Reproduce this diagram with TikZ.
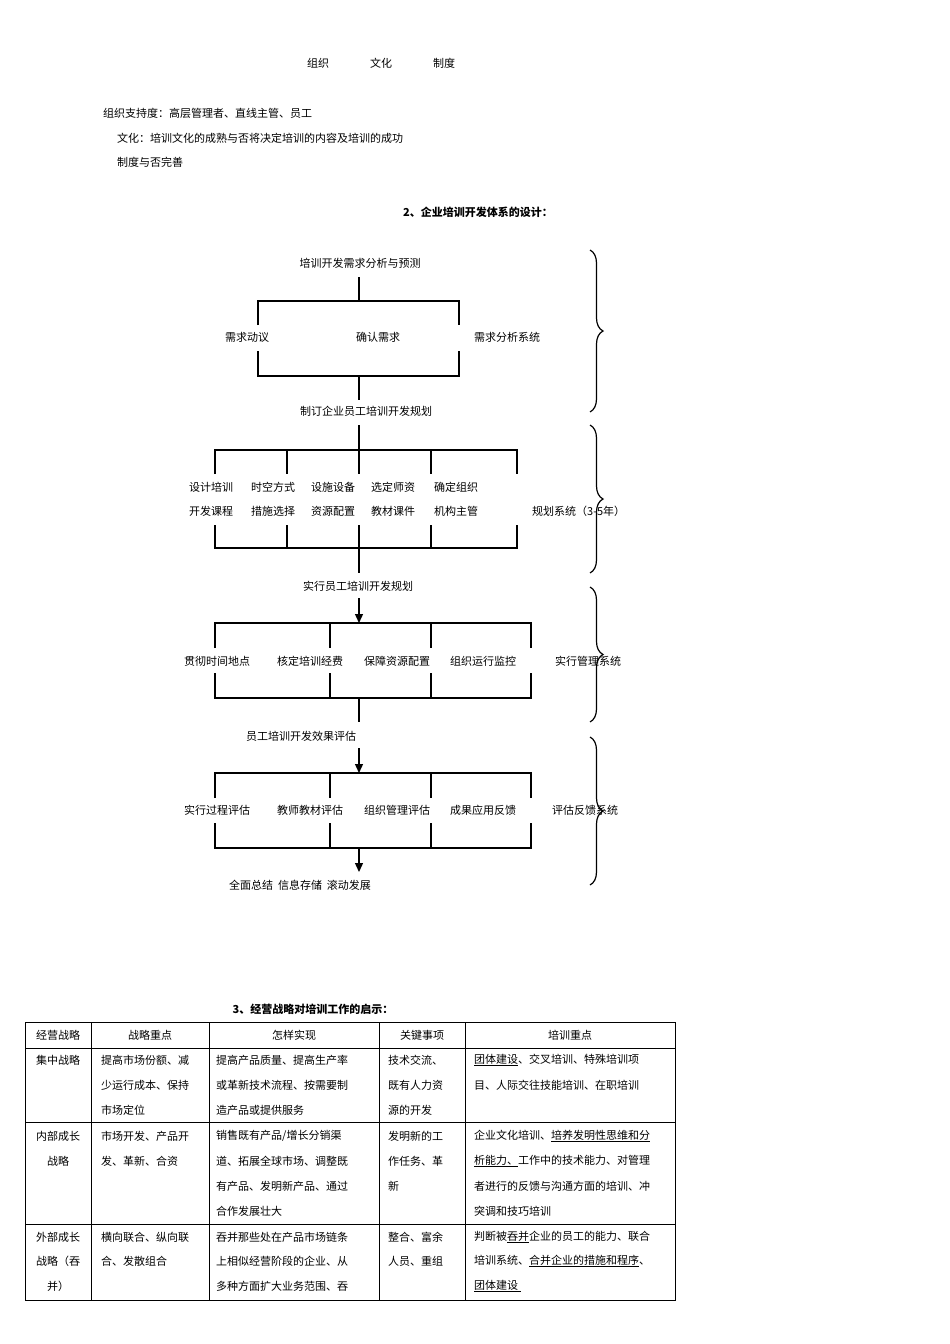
\documentclass[tikz,border=0pt]{standalone}
\usepackage{fontspec}
\setmainfont{Noto Sans CJK SC}
\usetikzlibrary{arrows.meta,decorations.pathreplacing}
\begin{document}
\begin{tikzpicture}[x=1pt,y=-1pt,
  every node/.style={inner sep=0pt,font=\fontsize{11}{12}\selectfont},
  ln/.style={line width=1.3pt},
  arr/.style={line width=1.3pt,-{Triangle[length=9pt,width=8pt]}},
  br/.style={line width=1.2pt,decorate,decoration={brace,amplitude=13pt,aspect=0.5}},
  tl/.style={line width=0.9pt},
  L/.style={anchor=west}]
\useasboundingbox (0,0) rectangle (950,1344);
% top text
\node (o1) at (318,63) {组织};
\node (o2) at (381,63) {文化};
\node (o3) at (444,63) {制度};
\node[L] (t1) at (103,113) {组织支持度：高层管理者、直线主管、员工};
\node[L] (t2) at (117,138) {文化：培训文化的成熟与否将决定培训的内容及培训的成功};
\node[L] (t3) at (117,162) {制度与否完善};
\node[font=\fontsize{11}{12}\selectfont\bfseries] (h2) at (478,212) {2、企业培训开发体系的设计：};
% section 1
\node (a0) at (360,263) {培训开发需求分析与预测};
\draw[ln] (359,277) -- (359,301);
\draw[ln] (258,325) -- (258,301) -- (459,301) -- (459,325);
\draw[ln] (258,351) -- (258,376) -- (459,376) -- (459,351);
\node (a1) at (247,337) {需求动议};
\node (a2) at (378,337) {确认需求};
\node (a3) at (507,337) {需求分析系统};
\draw[ln] (359,376) -- (359,400);
\node (b0) at (366,411) {制订企业员工培训开发规划};
% section 2
\draw[ln] (359,425) -- (359,474);
\draw[ln] (215,474) -- (215,450) -- (517,450) -- (517,474);
\foreach \x in {287,431} \draw[ln] (\x,450) -- (\x,474);
\draw[ln] (215,525) -- (215,548) -- (517,548) -- (517,525);
\foreach \x in {287,431} \draw[ln] (\x,525) -- (\x,548);
\draw[ln] (359,525) -- (359,573);
\node (b1) at (211,487) {设计培训}; \node at (211,511) {开发课程};
\node (b2) at (273,487) {时空方式}; \node at (273,511) {措施选择};
\node (b3) at (333,487) {设施设备}; \node at (333,511) {资源配置};
\node (b4) at (393,487) {选定师资}; \node at (393,511) {教材课件};
\node (b5) at (456,487) {确定组织}; \node at (456,511) {机构主管};
\node[L] (b6) at (532,511) {规划系统（3-5年）};
\node (c0) at (358,586) {实行员工培训开发规划};
% section 3
\draw[arr] (359,598) -- (359,623);
\draw[ln] (215,648) -- (215,623) -- (531,623) -- (531,648);
\foreach \x in {330,431} \draw[ln] (\x,623) -- (\x,648);
\draw[ln] (215,673) -- (215,698) -- (531,698) -- (531,673);
\foreach \x in {330,431} \draw[ln] (\x,673) -- (\x,698);
\node (c1) at (217,661) {贯彻时间地点};
\node (c2) at (310,661) {核定培训经费};
\node (c3) at (397,661) {保障资源配置};
\node (c4) at (483,661) {组织运行监控};
\node (c5) at (588,661) {实行管理系统};
\draw[ln] (359,698) -- (359,722);
\node (d0) at (301,736) {员工培训开发效果评估};
% section 4
\draw[arr] (359,748) -- (359,773);
\draw[ln] (215,798) -- (215,773) -- (531,773) -- (531,798);
\foreach \x in {330,431} \draw[ln] (\x,773) -- (\x,798);
\draw[ln] (215,823) -- (215,848) -- (531,848) -- (531,823);
\foreach \x in {330,431} \draw[ln] (\x,823) -- (\x,848);
\node (d1) at (217,810) {实行过程评估};
\node (d2) at (310,810) {教师教材评估};
\node (d3) at (397,810) {组织管理评估};
\node (d4) at (483,810) {成果应用反馈};
\node (d5) at (585,810) {评估反馈系统};
\draw[arr] (359,848) -- (359,872);
\node (e0) at (300,885) {全面总结\ \ 信息存储\ \ 滚动发展};
% braces
\draw[br] (590,250) -- (590,412);
\draw[br] (590,425) -- (590,573);
\draw[br] (590,587) -- (590,722);
\draw[br] (590,737) -- (590,885);
% table
\node[font=\fontsize{11}{12}\selectfont\bfseries] (h3) at (313,1009) {3、经营战略对培训工作的启示：};
\draw[tl] (25,1022) rectangle (675,1300);
\foreach \x in {91,209,379,465} \draw[tl] (\x,1022) -- (\x,1300);
\foreach \y in {1048,1122,1224} \draw[tl] (25,\y) -- (675,\y);
\node at (58,1035) {经营战略};
\node at (150,1035) {战略重点};
\node at (294,1035) {怎样实现};
\node at (422,1035) {关键事项};
\node at (570,1035) {培训重点};
% row1
\node at (58,1060) {集中战略};
\node[L] at (101,1060) {提高市场份额、减};
\node[L] at (101,1085) {少运行成本、保持};
\node[L] at (101,1110) {市场定位};
\node[L] at (216,1060) {提高产品质量、提高生产率};
\node[L] at (216,1085) {或革新技术流程、按需要制};
\node[L] at (216,1110) {造产品或提供服务};
\node[L] at (388,1060) {技术交流、};
\node[L] at (388,1085) {既有人力资};
\node[L] at (388,1110) {源的开发};
\node[L] at (474,1060) {\underline{团体建设}、交叉培训、特殊培训项};
\node[L] at (474,1085) {目、人际交往技能培训、在职培训};
% row2
\node at (58,1136) {内部成长};
\node at (58,1161) {战略};
\node[L] at (101,1136) {市场开发、产品开};
\node[L] at (101,1161) {发、革新、合资};
\node[L] at (216,1136) {销售既有产品/增长分销渠};
\node[L] at (216,1161) {道、拓展全球市场、调整既};
\node[L] at (216,1186) {有产品、发明新产品、通过};
\node[L] at (216,1211) {合作发展壮大};
\node[L] at (388,1136) {发明新的工};
\node[L] at (388,1161) {作任务、革};
\node[L] at (388,1186) {新};
\node[L] at (474,1136) {企业文化培训、\underline{培养发明性思维和分}};
\node[L] at (474,1161) {\underline{析能力、}工作中的技术能力、对管理};
\node[L] at (474,1186) {者进行的反馈与沟通方面的培训、冲};
\node[L] at (474,1211) {突调和技巧培训};
% row3
\node at (58,1237) {外部成长};
\node at (58,1261) {战略（吞};
\node at (58,1286) {并）};
\node[L] at (101,1237) {横向联合、纵向联};
\node[L] at (101,1261) {合、发散组合};
\node[L] at (216,1237) {吞并那些处在产品市场链条};
\node[L] at (216,1261) {上相似经营阶段的企业、从};
\node[L] at (216,1286) {多种方面扩大业务范围、吞};
\node[L] at (388,1237) {整合、富余};
\node[L] at (388,1261) {人员、重组};
\node[L] at (474,1237) {判断被\underline{吞并}企业的员工的能力、联合};
\node[L] at (474,1261) {培训系统、\underline{合并企业的措施和程序}、};
\node[L] at (474,1286) {\underline{团体建设\ }};
\end{tikzpicture}
\end{document}
